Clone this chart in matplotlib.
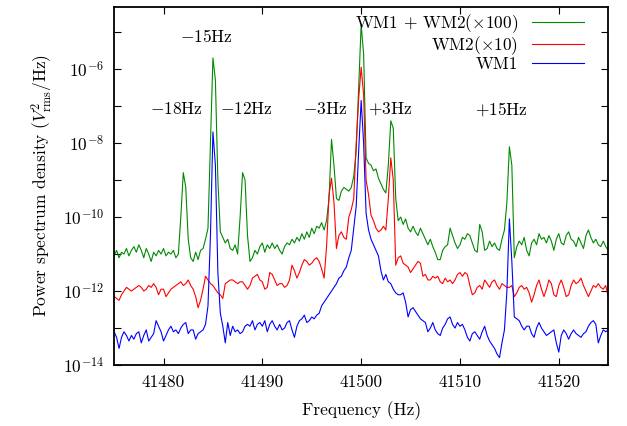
import numpy as np
import matplotlib
matplotlib.use("Agg")
import matplotlib.pyplot as plt

plt.rcParams['font.family'] = 'serif'
plt.rcParams['font.serif'] = ['cmr10']
plt.rcParams['mathtext.fontset'] = 'cm'
plt.rcParams['axes.unicode_minus'] = False

# frequency grid (Hz), 0.25 Hz steps from 41475 to 41525
freq = np.arange(41475, 41525.001, 0.25)

# log10 of PSD, one row per Hz
wm_sum_log = [
    -11.05, -10.90, -11.10, -10.95,
    -11.00, -10.85, -11.05, -10.90,
    -10.80, -10.95, -10.75, -10.90,
    -11.10, -10.85, -11.00, -11.20,
    -10.95, -11.05, -10.90, -11.00,
    -10.85, -11.05, -10.95, -11.00,
    -10.90, -11.10, -11.00, -10.00,
    -8.80, -9.20, -10.60, -11.10,
    -11.20, -10.95, -11.15, -10.90,
    -10.85, -10.60, -10.30, -8.00,
    -5.70, -6.30, -9.00, -10.40,
    -10.55, -10.70, -10.60, -10.85,
    -10.90, -10.75, -11.00, -10.00,
    -8.80, -9.00, -10.50, -11.20,
    -11.10, -10.90, -11.00, -10.80,
    -10.70, -10.95, -10.75, -10.85,
    -10.70, -10.85, -10.75, -10.90,
    -11.00, -10.80, -10.70, -10.75,
    -10.60, -10.70, -10.55, -10.65,
    -10.45, -10.60, -10.40, -10.55,
    -10.30, -10.45, -10.25, -10.30,
    -10.15, -10.35, -10.10, -9.50,
    -7.90, -8.60, -9.50, -9.55,
    -9.30, -9.20, -9.25, -9.30,
    -9.20, -8.90, -8.20, -6.50,
    -4.80, -5.60, -8.40, -8.55,
    -8.60, -8.75, -8.70, -8.95,
    -9.10, -9.25, -9.35, -8.60,
    -7.40, -7.60, -9.50, -10.10,
    -10.00, -10.20, -10.05, -10.30,
    -10.40, -10.25, -10.40, -10.50,
    -10.30, -10.45, -10.60, -10.75,
    -10.60, -10.80, -10.95, -11.15,
    -11.15, -10.90, -10.80, -10.75,
    -10.30, -10.50, -10.70, -10.85,
    -10.75, -10.55, -10.60, -10.45,
    -10.50, -10.70, -10.90, -10.95,
    -10.20, -10.40, -10.90, -10.85,
    -10.65, -10.80, -10.70, -10.85,
    -10.90, -10.60, -10.35, -9.60,
    -8.10, -8.60, -11.10, -10.80,
    -10.65, -10.75, -10.55, -10.90,
    -11.05, -10.70, -10.60, -10.75,
    -10.45, -10.60, -10.55, -10.70,
    -10.50, -10.65, -10.90, -10.60,
    -10.45, -10.70, -10.75, -10.50,
    -10.40, -10.60, -10.65, -10.80,
    -10.55, -10.70, -10.85, -10.50,
    -10.35, -10.55, -10.70, -10.60,
    -10.75, -10.80, -10.65, -10.80,
    -10.90,
]

wm2_log = [
    -12.15, -12.20, -12.25, -12.10,
    -12.00, -11.90, -11.95, -12.00,
    -11.95, -11.90, -11.85, -11.90,
    -12.00, -11.95, -11.85, -11.90,
    -11.80, -11.90, -12.10, -11.95,
    -11.95, -12.15, -12.05, -11.95,
    -11.90, -11.85, -11.80, -11.75,
    -11.85, -11.80, -11.70, -11.85,
    -11.95, -12.15, -12.45, -12.25,
    -11.95, -11.60, -11.70, -11.80,
    -11.85, -11.95, -12.05, -12.10,
    -12.20, -11.80, -11.75, -11.70,
    -11.70, -11.75, -11.80, -11.75,
    -11.75, -11.85, -11.95, -11.85,
    -11.65, -11.60, -11.55, -11.70,
    -11.75, -11.95, -11.90, -11.50,
    -11.55, -11.70, -11.85, -11.80,
    -11.80, -11.90, -11.85, -11.70,
    -11.30, -11.45, -11.65, -11.50,
    -11.30, -11.15, -11.20, -11.30,
    -11.25, -11.15, -11.10, -11.20,
    -11.40, -11.65, -10.80, -9.40,
    -8.95, -9.60, -10.85, -10.50,
    -10.40, -10.55, -10.60, -10.00,
    -9.80, -9.50, -8.00, -6.80,
    -5.95, -6.70, -9.00, -9.40,
    -9.95, -10.10, -10.30, -10.40,
    -10.35, -10.25, -10.35, -9.50,
    -8.40, -9.00, -11.30, -11.10,
    -11.05, -11.25, -11.30, -11.35,
    -11.50, -11.40, -11.30, -11.20,
    -11.25, -11.60, -11.55, -11.70,
    -11.70, -11.60, -11.65, -11.60,
    -11.75, -11.80, -11.65, -11.75,
    -11.70, -11.80, -11.70, -11.55,
    -11.50, -11.60, -11.50, -11.55,
    -11.85, -12.10, -12.05, -11.90,
    -11.85, -11.95, -11.70, -11.80,
    -11.90, -11.75, -11.70, -11.85,
    -11.95, -11.80, -11.85, -11.90,
    -11.90, -11.85, -12.15, -12.05,
    -11.90, -11.85, -11.95, -11.90,
    -12.05, -12.30, -12.10, -11.85,
    -11.70, -11.95, -12.15, -11.95,
    -11.70, -11.80, -12.10, -12.15,
    -11.85, -11.70, -11.90, -12.15,
    -12.10, -11.85, -11.70, -11.80,
    -11.75, -11.65, -11.85, -12.00,
    -12.15, -12.00, -11.85, -11.90,
    -11.80, -11.90, -11.95, -11.85,
    -12.15,
]

wm1_log = [
    -13.10, -13.25, -13.55, -13.25,
    -13.10, -13.20, -13.35, -13.20,
    -13.30, -13.15, -13.10, -13.40,
    -13.20, -13.05, -13.35, -13.25,
    -13.15, -12.80, -12.95, -13.10,
    -13.35, -13.20, -13.05, -12.95,
    -13.10, -13.05, -13.15, -13.00,
    -12.90, -12.85, -13.15, -13.05,
    -13.05, -13.30, -13.15, -13.10,
    -13.05, -12.90, -12.40, -10.50,
    -7.70, -8.60, -11.50, -12.60,
    -12.95, -13.40, -12.85, -13.20,
    -12.95, -13.10, -13.05, -13.15,
    -13.10, -12.95, -12.90, -12.95,
    -12.80, -13.05, -12.90, -12.85,
    -12.95, -12.80, -13.10, -12.90,
    -12.80, -12.95, -13.05, -12.90,
    -13.05, -13.00, -12.85, -12.80,
    -13.05, -13.25, -12.95, -12.80,
    -12.75, -12.65, -12.85, -12.80,
    -12.70, -12.75, -12.65, -12.60,
    -12.40, -12.30, -12.20, -12.10,
    -12.00, -11.90, -11.80, -11.65,
    -11.60, -11.45, -11.35, -11.10,
    -10.90, -10.30, -9.70, -8.20,
    -6.85, -8.00, -9.90, -10.35,
    -10.60, -10.75, -10.90, -11.05,
    -11.45, -11.70, -11.55, -11.75,
    -11.80, -11.95, -12.05, -12.10,
    -12.10, -12.05, -12.30, -12.70,
    -12.50, -12.45, -12.55, -12.65,
    -12.75, -12.80, -12.85, -13.10,
    -13.00, -12.85, -13.05, -13.15,
    -13.20, -13.00, -12.90, -12.75,
    -12.70, -12.90, -13.00, -12.85,
    -12.95, -12.90, -13.05, -13.25,
    -13.35, -13.15, -13.10, -13.20,
    -13.30, -13.10, -12.95, -13.20,
    -13.35, -13.45, -13.55, -13.70,
    -13.80, -13.40, -13.05, -12.00,
    -10.05, -11.20, -12.70, -12.75,
    -12.80, -12.95, -13.05, -12.95,
    -12.95, -13.15, -13.25, -13.00,
    -12.85, -13.00, -13.10, -13.20,
    -13.15, -13.10, -13.05, -13.40,
    -13.65, -13.20, -13.05, -13.15,
    -13.30, -13.15, -13.05, -13.15,
    -13.20, -13.25, -13.15, -13.10,
    -12.95, -12.85, -12.80, -12.90,
    -13.40, -13.20, -13.05, -13.10,
    -13.05,
]

series_labels = [r'WM1 $+$ WM2($\times$100)', r'WM2($\times$10)', 'WM1']
series_colors = ['#008a00', '#ff0000', '#0000ff']

# sideband labels and where they sit (freq, log10 height)
peak_labels = [r'$-$15Hz', r'$-$18Hz', r'$-$12Hz', r'$-$3Hz', r'$+$3Hz', r'$+$15Hz']
peak_label_x = [41484.3, 41481.3, 41488.4, 41496.4, 41502.9, 41514.2]
peak_label_y = [-5.13, -7.08, -7.08, -7.08, -7.08, -7.08]

fig = plt.figure(figsize=(6.27, 4.26), dpi=100)
ax = fig.add_axes([0.182, 0.143, 0.788, 0.841])

for vals, lab, col in zip([wm_sum_log, wm2_log, wm1_log], series_labels, series_colors):
    ax.plot(freq, 10.0 ** np.array(vals), color=col, lw=0.8, label=lab)

ax.set_yscale('log')
ax.set_xlim(41475, 41525)
ax.set_ylim(1e-14, 10 ** -4.32)

yt = [10.0 ** e for e in range(-14, -4)]
ax.set_yticks(yt)
ax.set_yticklabels([r'$10^{%d}$' % e if e % 2 == 0 else '' for e in range(-14, -4)])
ax.minorticks_off()
ax.set_xticks([41480, 41490, 41500, 41510, 41520])
ax.set_xticklabels(['41480', '41490', '41500', '41510', '41520'])

ax.tick_params(direction='in', top=True, right=True, length=5, width=0.8,
               labelsize=12.5, pad=7)
for s in ax.spines.values():
    s.set_linewidth(1.3)

for t, x, y in zip(peak_labels, peak_label_x, peak_label_y):
    ax.text(x, 10 ** y, t, ha='center', va='center', fontsize=12.5)

ax.set_xlabel('Frequency (Hz)', fontsize=12.5, labelpad=8)
ax.set_ylabel(r'Power spectrum density $(V_{\mathrm{rms}}^2/\mathrm{Hz})$', fontsize=12.5, labelpad=6)

ax.legend(loc='upper right', frameon=False, markerfirst=False, fontsize=12.5,
          handlelength=3.0, labelspacing=-0.02, borderaxespad=0.0,
          bbox_to_anchor=(0.965, 1.004))

fig.savefig('out.png', dpi=100)
